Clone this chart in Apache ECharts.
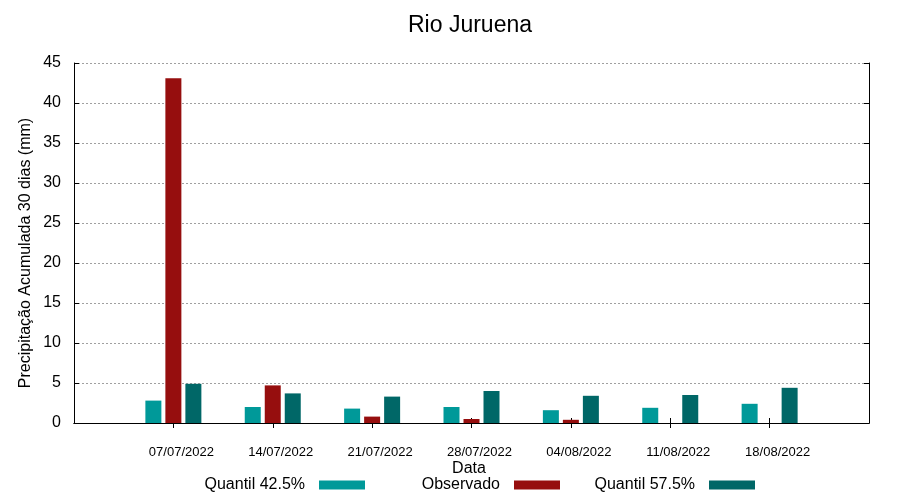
<!DOCTYPE html>
<html>
<head>
<meta charset="utf-8">
<script src="https://cdn.jsdelivr.net/npm/echarts@6/dist/echarts.min.js"></script>
<style>
html,body{margin:0;padding:0;background:#fff;}
#chart{width:900px;height:500px;}
</style>
</head>
<body>
<div id="chart"></div>
<script>
const titleText = 'Rio Juruena';
const categories = ['07/07/2022','14/07/2022','21/07/2022','28/07/2022','04/08/2022','11/08/2022','18/08/2022'];
const quantil425 = [2.8, 2.0, 1.8, 2.0, 1.6, 1.9, 2.4];
const observado = [43.1, 4.7, 0.8, 0.5, 0.4, 0, 0];
const quantil575 = [4.9, 3.7, 3.3, 4.0, 3.4, 3.5, 4.4];
const seriesNames = ['Quantil 42.5%', 'Observado', 'Quantil 57.5%'];
const seriesColors = ['#009999', '#960e0e', '#006767'];
const yTicks = [0, 5, 10, 15, 20, 25, 30, 35, 40, 45];
const yAxisName = 'Precipitação Acumulada 30 dias (mm)';
const xAxisName = 'Data';

const FONT = 'Liberation Sans, Arial, sans-serif';
// pad categories with an empty slot on each side (axis spans one step beyond first/last date)
const xCats = [''].concat(categories, ['']);
const pad = arr => ['-'].concat(arr, ['-']);

const chart = echarts.init(document.getElementById('chart'), null, {renderer: 'canvas'});
const legendRights = [535, 340, 145];

const option = {
  backgroundColor: '#fff',
  animation: false,
  title: {
    text: titleText,
    left: 470,
    top: 14,
    padding: 0,
    textAlign: 'center',
    textStyle: {fontFamily: FONT, fontSize: 23, fontWeight: 'normal', color: '#000'}
  },
  grid: {left: 74, top: 63, width: 795, height: 360, containLabel: false, outerBoundsMode: 'none'},
  legend: seriesNames.map((n, i) => ({
    data: [n],
    right: legendRights[i],
    top: 477,
    padding: 0,
    align: 'right',
    orient: 'horizontal',
    itemWidth: 46,
    itemHeight: 9,
    icon: 'rect',
    selectedMode: false,
    textStyle: {fontFamily: FONT, fontSize: 16, color: '#000', padding: [0, 9, 4, 0]}
  })),
  xAxis: [
    {
      type: 'category',
      data: xCats,
      boundaryGap: false,
      position: 'bottom',
      axisLine: {show: true, lineStyle: {color: '#000', width: 1}},
      axisTick: {show: true, inside: true, length: 5, lineStyle: {color: '#000'},
                 interval: (idx) => idx > 0 && idx < xCats.length - 1},
      axisLabel: {show: true, interval: 0, margin: 23, color: '#000',
                  fontFamily: FONT, fontSize: 13, padding: [0, 0, 0, 16]},
      splitLine: {show: false}
    },
    {
      type: 'category',
      data: xCats,
      boundaryGap: false,
      position: 'top',
      axisLine: {show: true, lineStyle: {color: '#000', width: 1}},
      axisTick: {show: true, inside: true, length: 5, lineStyle: {color: '#000'},
                 interval: (idx) => idx > 0 && idx < xCats.length - 1},
      axisLabel: {show: false},
      splitLine: {show: false}
    }
  ],
  yAxis: [
    {
      type: 'value',
      min: yTicks[0],
      max: yTicks[yTicks.length - 1],
      interval: yTicks[1] - yTicks[0],
      position: 'left',
      axisLine: {show: true, lineStyle: {color: '#000', width: 1}},
      axisTick: {show: true, inside: true, length: 5, lineStyle: {color: '#000'}},
      axisLabel: {show: true, margin: 13, color: '#000', fontFamily: FONT, fontSize: 16},
      splitLine: {show: true, lineStyle: {color: '#a0a0a0', width: 1, type: [2, 2]}}
    },
    {
      type: 'value',
      min: yTicks[0],
      max: yTicks[yTicks.length - 1],
      interval: yTicks[1] - yTicks[0],
      position: 'right',
      axisLine: {show: true, lineStyle: {color: '#000', width: 1}},
      axisTick: {show: true, inside: true, length: 5, lineStyle: {color: '#000'}},
      axisLabel: {show: false},
      splitLine: {show: false}
    }
  ],
  graphic: [
    {
      type: 'text',
      x: 25.5,
      y: 253,
      rotation: Math.PI / 2,
      style: {text: yAxisName, x: 0, y: 0, align: 'center', verticalAlign: 'middle',
              font: '16px ' + FONT, fill: '#000'}
    },
    {
      type: 'text',
      x: 469,
      y: 469,
      style: {text: xAxisName, x: 0, y: 0, align: 'center', verticalAlign: 'middle',
              font: '16px ' + FONT, fill: '#000'}
    }
  ],
  series: [quantil425, observado, quantil575].map((d, i) => ({
    name: seriesNames[i],
    type: 'bar',
    xAxisIndex: 0,
    yAxisIndex: 0,
    data: pad(d),
    barWidth: 16,
    barGap: '25%',
    itemStyle: {color: seriesColors[i]},
    emphasis: {disabled: true}
  }))
};
chart.setOption(option);
</script>
</body>
</html>
